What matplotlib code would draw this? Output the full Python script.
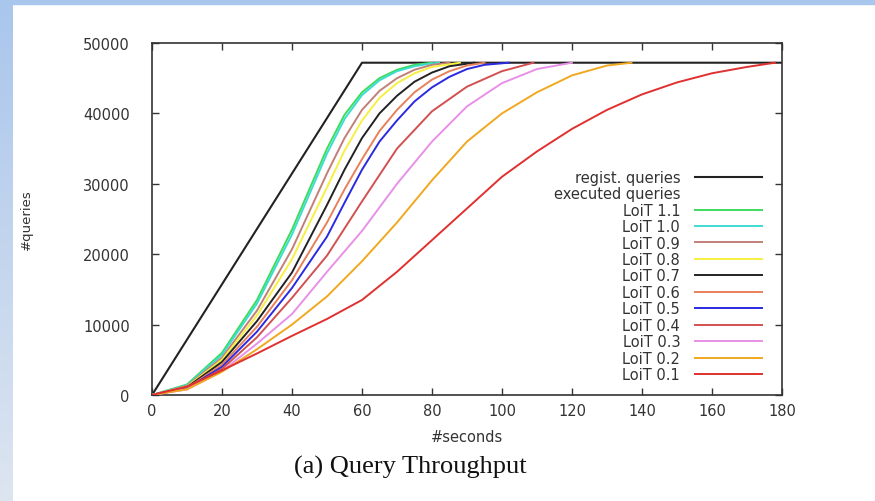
import numpy as np
import matplotlib
matplotlib.use('Agg')
import matplotlib.pyplot as plt
from matplotlib.patches import Rectangle

# values (seconds, #queries)
regist_t = [0, 60, 180]
regist_q = [0, 47200, 47200]

loit11_t = [0, 10, 20, 30, 40, 50, 55, 60, 65, 70, 75, 80]
loit11_q = [0, 1500, 6000, 13500, 23500, 35000, 39800, 43000, 45000, 46200, 46900, 47200]

loit10_t = [0, 10, 20, 30, 40, 50, 55, 60, 65, 70, 75, 80, 82]
loit10_q = [0, 1400, 5700, 13000, 22800, 34300, 39200, 42600, 44700, 46000, 46700, 47100, 47200]

loit09_t = [0, 10, 20, 30, 40, 50, 55, 60, 65, 70, 75, 80, 85]
loit09_q = [0, 1300, 5300, 12000, 20700, 31500, 36500, 40500, 43200, 45000, 46200, 46900, 47200]

loit08_t = [0, 10, 20, 30, 40, 50, 55, 60, 65, 70, 75, 80, 88]
loit08_q = [0, 1200, 5000, 11300, 19300, 29500, 34700, 39000, 42200, 44300, 45700, 46600, 47200]

loit07_t = [0, 10, 20, 30, 40, 50, 55, 60, 65, 70, 75, 80, 85, 92]
loit07_q = [0, 1100, 4700, 10500, 17400, 27000, 32000, 36500, 40000, 42500, 44500, 45800, 46700, 47200]

loit06_t = [0, 10, 20, 30, 40, 50, 55, 60, 65, 70, 75, 80, 85, 90, 95]
loit06_q = [0, 1000, 4300, 9700, 16300, 24500, 29200, 33500, 37500, 40500, 43000, 44800, 46000, 46800, 47200]

loit05_t = [0, 10, 20, 30, 40, 50, 55, 60, 65, 70, 75, 80, 85, 90, 95, 102]
loit05_q = [0, 950, 4000, 9000, 15200, 22500, 27300, 32000, 36000, 39000, 41700, 43700, 45200, 46300,
            46900, 47200]

loit04_t = [0, 10, 20, 30, 40, 50, 60, 70, 80, 90, 100, 109]
loit04_q = [0, 900, 3700, 8200, 13800, 19800, 27500, 35000, 40300, 43800, 46000, 47200]

loit03_t = [0, 10, 20, 30, 40, 50, 60, 70, 80, 90, 100, 110, 120]
loit03_q = [0, 800, 3400, 7300, 11500, 17500, 23300, 30000, 36000, 41000, 44300, 46300, 47200]

loit02_t = [0, 10, 20, 30, 40, 50, 60, 70, 80, 90, 100, 110, 120, 130, 137]
loit02_q = [0, 800, 3300, 6500, 10000, 14000, 19000, 24500, 30500, 36000, 40000, 43000, 45400, 46800, 47200]

loit01_t = [0, 10, 20, 30, 40, 50, 60, 70, 80, 90, 100, 110, 120, 130, 140, 150, 160, 170, 178]
loit01_q = [0, 1200, 3500, 5900, 8400, 10800, 13500, 17500, 22000, 26500, 31000, 34600, 37800, 40500,
            42700, 44400, 45700, 46600, 47200]

labels = ['LoiT 1.1', 'LoiT 1.0', 'LoiT 0.9', 'LoiT 0.8', 'LoiT 0.7', 'LoiT 0.6',
          'LoiT 0.5', 'LoiT 0.4', 'LoiT 0.3', 'LoiT 0.2', 'LoiT 0.1']
colors = ['#3ddc5a', '#3ddcd2', '#c08078', '#f6f040', '#222222', '#e8805a',
          '#2a2ae0', '#d25050', '#e890e8', '#f0a820', '#e03030']
curves = [(loit11_t, loit11_q), (loit10_t, loit10_q), (loit09_t, loit09_q), (loit08_t, loit08_q),
          (loit07_t, loit07_q), (loit06_t, loit06_q), (loit05_t, loit05_q), (loit04_t, loit04_q),
          (loit03_t, loit03_q), (loit02_t, loit02_q), (loit01_t, loit01_q)]

plt.rcParams['font.family'] = 'DejaVu Sans'
fig = plt.figure(figsize=(8.75, 5.02), dpi=100)
fig.patch.set_facecolor('white')

# blue page border (top strip + left gradient strip)
fig.patches.append(Rectangle((0, 1 - 5 / 502), 1, 5 / 502, transform=fig.transFigure,
                             color='#a9c6ec', zorder=0))
bax = fig.add_axes([0, 0, 13 / 875, 1])
grad = np.linspace(0, 1, 256).reshape(-1, 1)
top_c = np.array([0xa9, 0xc6, 0xec]) / 255
bot_c = np.array([0xdd, 0xe5, 0xf0]) / 255
img = top_c[None, None, :] * (1 - grad[:, :, None]) + bot_c[None, None, :] * grad[:, :, None]
bax.imshow(img, aspect='auto', extent=[0, 1, 0, 1])
bax.axis('off')

ax = fig.add_axes([152 / 875, 106 / 502, 630 / 875, 352 / 502])

ax.plot(regist_t, regist_q, color='#222222', lw=1.5, label='regist. queries', zorder=2)
ax.plot([], [], color='none', label='executed queries')
for (tt, qq), c, lab in zip(curves, colors, labels):
    ax.plot(tt, qq, color=c, lw=1.4, label=lab, zorder=3)

ax.set_xlim(0, 180)
ax.set_ylim(0, 50000)
ax.set_xticks(range(0, 181, 20))
ax.set_yticks(range(0, 50001, 10000))
ax.tick_params(direction='in', top=True, right=True, length=5, width=1, colors='#333333',
               labelsize=10.5, labelcolor='#333333')
ax.tick_params(axis='y', pad=16)
ax.tick_params(axis='x', pad=6)
for s in ax.spines.values():
    s.set_linewidth(1.2)
    s.set_color('#333333')

ax.set_xlabel('#seconds', fontsize=10.5, color='#333333', labelpad=8)
ax.set_ylabel('#queries', fontsize=9.5, color='#333333', labelpad=36)

leg = ax.legend(loc='upper right', bbox_to_anchor=(0.968, 0.64), frameon=False, markerfirst=False,
                fontsize=10.5, handlelength=4.6, handletextpad=1.0, labelspacing=0.1,
                borderpad=0, borderaxespad=0)
for t in leg.get_texts():
    t.set_color('#333333')
    t.set_ha('right')
leg._legend_box.align = 'right'

fig.text(410 / 875, 1 - 467 / 502, '(a) Query Throughput', family='Liberation Serif',
         fontsize=19, ha='center', va='center', color='#111111')

plt.savefig('out.png', dpi=100)
plt.close()
